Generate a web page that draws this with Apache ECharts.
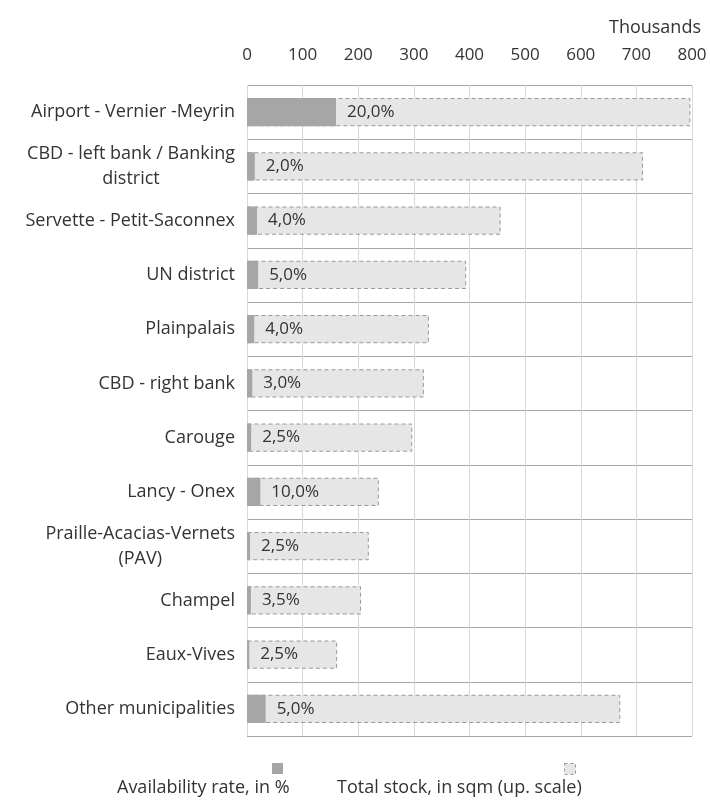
<!DOCTYPE html>
<html lang="en" style="height: 100%">
<head>
  <meta charset="utf-8">
</head>
<body style="height: 100%; margin: 0">
  <div id="container" style="width: 710px; height: 800px"></div>

  <script type="text/javascript" src="https://fastly.jsdelivr.net/npm/echarts@6/dist/echarts.min.js"></script>
  <script type="text/javascript">
    // districts, top to bottom
    var districts = [
      'Airport - Vernier -Meyrin',
      'CBD - left bank / Banking\ndistrict',
      'Servette - Petit-Saconnex',
      'UN district',
      'Plainpalais',
      'CBD - right bank',
      'Carouge',
      'Lancy - Onex',
      'Praille-Acacias-Vernets\n(PAV)',
      'Champel',
      'Eaux-Vives',
      'Other municipalities'
    ];
    // total stock, thousands of sqm
    var totalStock = [797, 712, 456, 394, 327, 318, 297, 237, 219, 205, 162, 671];
    // vacant part of the stock, thousands of sqm
    var vacantStock = [160, 14, 18, 20, 13, 9.5, 7.5, 24, 5.5, 7, 4, 33.5];
    // availability rate labels
    var rateLabels = ['20,0%', '2,0%', '4,0%', '5,0%', '4,0%', '3,0%', '2,5%', '10,0%', '2,5%', '3,5%', '2,5%', '5,0%'];
    var xTicks = [0, 100, 200, 300, 400, 500, 600, 700, 800];

    var font = 'Open Sans';
    var textColor = '#333';

    var dom = document.getElementById('container');
    var myChart = echarts.init(dom, null, { renderer: 'canvas' });

    var option = {
      animation: false,
      textStyle: { fontFamily: font },
      title: {
        text: 'Thousands',
        right: 4,
        top: 14,
        textStyle: { fontFamily: font, fontSize: 18, fontWeight: 'normal', color: textColor }
      },
      grid: { left: 247, right: 18, top: 85, bottom: 64 },
      xAxis: {
        type: 'value',
        position: 'top',
        min: xTicks[0],
        max: xTicks[xTicks.length - 1],
        interval: 100,
        axisLine: { show: false },
        axisTick: { show: false },
        axisLabel: { color: textColor, fontSize: 17, margin: 21, fontFamily: font },
        splitLine: { lineStyle: { color: '#d9d9d9', width: 1 } }
      },
      yAxis: {
        type: 'category',
        inverse: true,
        data: districts,
        axisLine: { show: false },
        axisTick: { show: false },
        axisLabel: {
          margin: 12,
          align: 'right',
          formatter: function (v) {
            return v.split('\n').map(function (s) { return '{c|' + s + '}'; }).join('\n');
          },
          rich: {
            c: { align: 'center', fontSize: 18, color: textColor, fontFamily: font, lineHeight: 25 }
          }
        },
        splitLine: { show: true, lineStyle: { color: '#a6a6a6', width: 1 } }
      },
      series: [
        {
          name: 'Total stock, in sqm (up. scale)',
          type: 'bar',
          data: totalStock,
          barWidth: '52%',
          barGap: '-100%',
          itemStyle: {
            color: '#e6e6e6',
            borderColor: '#999',
            borderWidth: 1,
            borderType: [4, 3]
          }
        },
        {
          name: 'Availability rate, in %',
          type: 'bar',
          data: vacantStock,
          barWidth: '52%',
          itemStyle: { color: '#a6a6a6' },
          label: {
            show: true,
            position: 'right',
            distance: 11,
            fontSize: 17,
            color: textColor,
            fontFamily: font,
            formatter: function (p) { return rateLabels[p.dataIndex]; }
          }
        }
      ],
      graphic: [
        { type: 'rect', left: 272, top: 763, shape: { width: 11, height: 11 }, style: { fill: '#a6a6a6' } },
        { type: 'text', left: 117, top: 779, style: { text: 'Availability rate, in %', fontSize: 18, fontFamily: font, fill: textColor } },
        { type: 'rect', left: 564, top: 763, shape: { width: 11, height: 11 }, style: { fill: '#e6e6e6', stroke: '#999', lineWidth: 1, lineDash: [3, 3] } },
        { type: 'text', left: 337, top: 779, style: { text: 'Total stock, in sqm (up. scale)', fontSize: 18, fontFamily: font, fill: textColor } }
      ]
    };

    myChart.setOption(option);
    window.addEventListener('resize', myChart.resize);
  </script>
</body>
</html>
